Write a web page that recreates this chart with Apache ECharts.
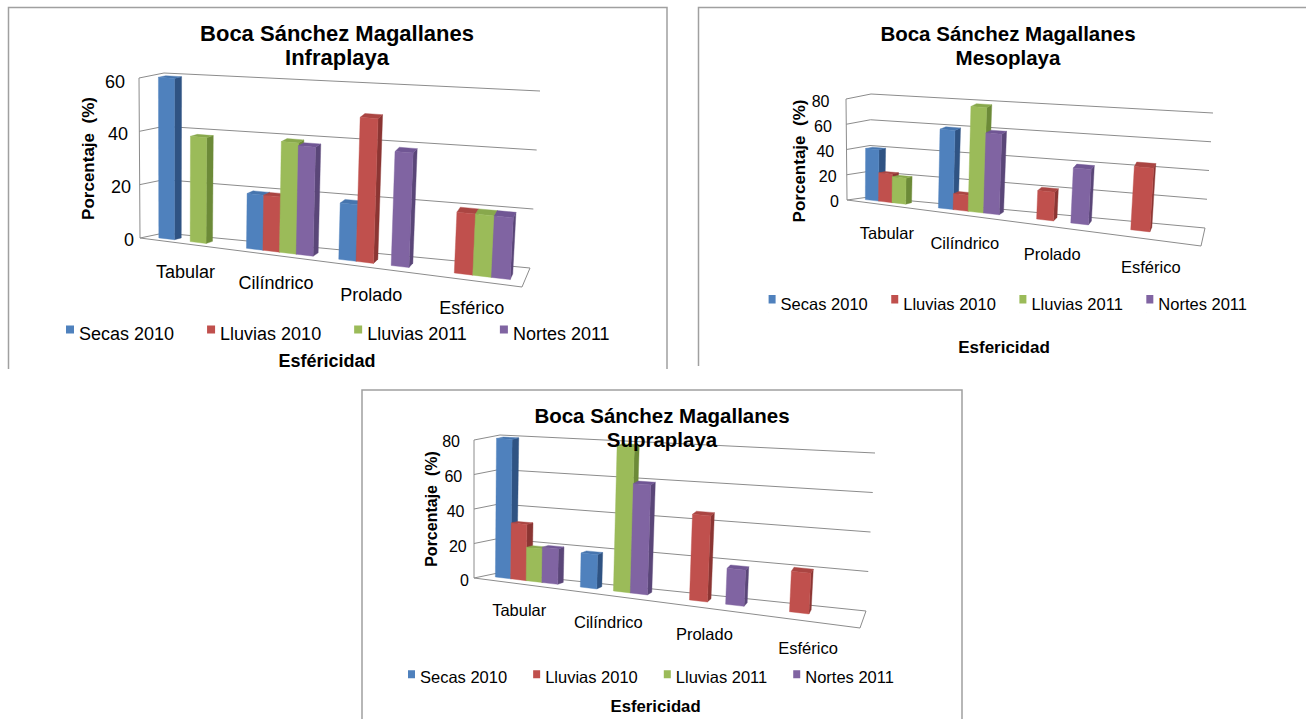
<!DOCTYPE html>
<html><head><meta charset="utf-8">
<script src="https://cdn.jsdelivr.net/npm/echarts@6/dist/echarts.min.js"></script>
<style>html,body{margin:0;padding:0;background:#fff}#c{width:1306px;height:719px}</style>
</head><body><div id="c"></div>
<script>
// ---------------- DATA ----------------
const categories = ['Tabular', 'Cilíndrico', 'Prolado', 'Esférico'];
const seriesNames = ['Secas 2010', 'Lluvias 2010', 'Lluvias 2011', 'Nortes 2011'];

const infraSecas2010   = [60, 20, 20, 0];
const infraLluvias2010 = [0, 20, 51, 21];
const infraLluvias2011 = [39, 40, 0, 21];
const infraNortes2011  = [0, 39, 40, 21];
const infraTicks = [0, 20, 40, 60];

const mesoSecas2010   = [40, 60, 0, 0];
const mesoLluvias2010 = [22, 12, 21, 45];
const mesoLluvias2011 = [20, 79, 0, 0];
const mesoNortes2011  = [0, 60, 40, 0];
const mesoTicks = [0, 20, 40, 60, 80];

const supraSecas2010   = [80, 19, 0, 0];
const supraLluvias2010 = [32, 0, 46, 21];
const supraLluvias2011 = [19, 80, 0, 0];
const supraNortes2011  = [20, 60, 19, 0];
const supraTicks = [0, 20, 40, 60, 80];

// ---------------- STYLE / LAYOUT ----------------
const FONT = '"Liberation Sans", Arial, sans-serif';
const frontColors = ['#4F81BD', '#C0504D', '#9BBB59', '#8064A2'];
const sideColors  = ['#2F5383', '#8B3533', '#6C8A38', '#5A4678'];
const topColors   = ['#4675AE', '#AA4542', '#88A84C', '#705694'];
const gridLineColor = '#8c8c8c';

const panels = [
  {
    title: 'Boca Sánchez Magallanes\nInfraplaya', titleX: 337, titleY: 21, titleSize: 22,
    yName: 'Porcentaje  (%)', yNamePos: [88, 158.5], yNameSize: 17,
    xName: 'Esféricidad', xNamePos: [327, 361], xNameSize: 18,
    values: [infraSecas2010, infraLluvias2010, infraLluvias2011, infraNortes2011],
    ticks: infraTicks, max: 60,
    grid: { left: 140, top: 81.5, width: 374, height: 158.5 },
    geo: { FLB: [140, 238], FLT: [139, 78], BLB: [164, 233], BLT: [164, 73],
           FRB: [522, 287], FRT: [531, 110], BRB: [530, 268], BRT: [540, 91] },
    warp: 0.9, gap: 1.5, z0: 0.3, z1: 0.6, labelOff: [2, 28],
    fontSize: 18, yLabelSize: 18, yLabelMargin: 6, yLabelSlant: 9,
    legend: { left: 66, top: 324.8, gap: 33, iconW: 8, iconH: 8, boxH: 16.5 }
  },
  {
    title: 'Boca Sánchez Magallanes\nMesoplaya', titleX: 1008, titleY: 21, titleSize: 20.5,
    yName: 'Porcentaje  (%)', yNamePos: [799, 161], yNameSize: 17,
    xName: 'Esfericidad', xNamePos: [1004, 347], xNameSize: 17,
    values: [mesoSecas2010, mesoLluvias2010, mesoLluvias2011, mesoNortes2011],
    ticks: mesoTicks, max: 80,
    grid: { left: 846, top: 101.7, width: 316, height: 100 },
    geo: { FLB: [847, 200], FLT: [846, 99], BLB: [869, 197], BLT: [871, 94],
           FRB: [1201, 246], FRT: [1209, 131], BRB: [1205, 228], BRT: [1213, 113] },
    warp: 0.79, gap: 1.3, z0: 0.45, z1: 0.75, labelOff: [4, 28],
    fontSize: 16.5, yLabelSize: 16, yLabelMargin: 7, yLabelSlant: 9.5,
    legend: { left: 768.6, top: 295, gap: 23.5, iconW: 7, iconH: 8.5, boxH: 17.9 }
  },
  {
    title: 'Boca Sánchez Magallanes\nSupraplaya', titleX: 662, titleY: 403, titleSize: 20.5,
    yName: 'Porcentaje  (%)', yNamePos: [431.5, 509], yNameSize: 16,
    xName: 'Esfericidad', xNamePos: [655.6, 706.7], xNameSize: 16.7,
    values: [supraSecas2010, supraLluvias2010, supraLluvias2011, supraNortes2011],
    ticks: supraTicks, max: 80,
    grid: { left: 474, top: 441.7, width: 363, height: 139.1 },
    geo: { FLB: [474, 578], FLT: [474, 440], BLB: [498, 573], BLT: [500, 435],
           FRB: [860, 628], FRT: [869, 470], BRB: [866, 611], BRT: [875, 453] },
    warp: 0.86, gap: 1.4, z0: 0.45, z1: 0.72, labelOff: [3, 27],
    fontSize: 16.5, yLabelSize: 16, yLabelMargin: 5, yLabelSlant: 9,
    legend: { left: 408, top: 668.7, gap: 26, iconW: 7, iconH: 8, boxH: 13.8 }
  }
];

// ---------------- PROJECTION ----------------
function lerp(a, b, t) { return [a[0] + (b[0] - a[0]) * t, a[1] + (b[1] - a[1]) * t]; }
function project(p, X, Y, Z) {
  const r = p.warp;
  const Xw = r * X / (1 + (r - 1) * X);
  const g = p.geo;
  const fb = lerp(g.FLB, g.FRB, Xw), ft = lerp(g.FLT, g.FRT, Xw);
  const bb = lerp(g.BLB, g.BRB, Xw), bt = lerp(g.BLT, g.BRT, Xw);
  return lerp(lerp(fb, ft, Y), lerp(bb, bt, Y), Z);
}
function textEl(x, y, text, size, bold, extra) {
  return Object.assign({
    type: 'text', x: x, y: y,
    style: {
      text: text, fill: '#000', textFill: '#000',
      font: (bold ? 'bold ' : '') + size + 'px ' + FONT,
      align: 'center', verticalAlign: 'middle',
      textAlign: 'center', textVerticalAlign: 'middle'
    }
  }, extra || {});
}

function frameRender(p) {
  return function (params, api) {
    const cs = params.coordSys;
    const P = (X, Y, Z) => project(p, X, Y, Z);
    const line = (a, b) => ({ type: 'line', shape: { x1: a[0], y1: a[1], x2: b[0], y2: b[1] },
      style: { stroke: gridLineColor, lineWidth: 1 } });
    const children = [];
    p.ticks.forEach(t => {
      const Y = (cs.y + cs.height - api.coord([0, t])[1]) / cs.height;
      children.push(line(P(0, Y, 0), P(0, Y, 1)));
      children.push(line(P(0, Y, 1), P(1, Y, 1)));
    });
    children.push(line(P(0, 0, 0), P(0, 1, 0)));
    children.push(line(P(0, 0, 0), P(1, 0, 0)));
    children.push(line(P(1, 0, 0), P(1, 0, 1)));
    categories.forEach((name, i) => {
      const cx = (api.coord([i, 0])[0] - cs.x) / cs.width;
      const pt = P(cx, 0, 0);
      children.push(textEl(pt[0] + p.labelOff[0], pt[1] + p.labelOff[1], name, p.fontSize, false));
    });
    return { type: 'group', children: children };
  };
}

function barRender(p, s) {
  return function (params, api) {
    const cat = api.value(0), v = api.value(1);
    if (!v) return null;
    const cs = params.coordSys;
    const c = api.coord([cat, v]);
    const c0 = api.coord([cat, 0]);
    const band = api.size([1, 0])[0];
    const bw = band / (4 + p.gap);
    const xs = c[0] - band / 2 + bw * p.gap / 2 + s * bw;
    const Xa = (xs - cs.x) / cs.width, Xb = (xs + bw - cs.x) / cs.width;
    const Y = (c0[1] - c[1]) / cs.height;
    const P = (X, Yv, Z) => project(p, X, Yv, Z);
    const z0 = p.z0, z1 = p.z1;
    const poly = (pts, fill) => ({ type: 'polygon', shape: { points: pts },
      style: { fill: fill, stroke: fill, lineWidth: 0.4 } });
    return {
      type: 'group',
      children: [
        poly([P(Xb, 0, z0), P(Xb, 0, z1), P(Xb, Y, z1), P(Xb, Y, z0)], sideColors[s]),
        poly([P(Xa, Y, z0), P(Xb, Y, z0), P(Xb, Y, z1), P(Xa, Y, z1)], topColors[s]),
        poly([P(Xa, 0, z0), P(Xb, 0, z0), P(Xb, Y, z0), P(Xa, Y, z0)], frontColors[s])
      ]
    };
  };
}

// legend key: square at the top of a taller box, so the key sits level with the cap line of the text
function legendIcon(l) {
  const w = l.iconW, h = l.iconH, H = l.boxH;
  return 'path://M0,0L' + w + ',0L' + w + ',' + h + 'L0,' + h + 'Z M0,' + (H - 0.1) + 'L0.1,' + (H - 0.1) + 'L0.1,' + H + 'L0,' + H + 'Z';
}

// ---------------- OPTION ----------------
const option = {
  backgroundColor: '#ffffff',
  animation: false,
  title: panels.map(p => ({
    text: p.title, left: p.titleX, top: p.titleY, textAlign: 'center', padding: 0,
    textStyle: { fontFamily: FONT, fontWeight: 'bold', fontSize: p.titleSize, lineHeight: 24, color: '#000' }
  })),
  grid: panels.map(p => Object.assign({}, p.grid)),
  xAxis: panels.map((p, i) => ({ type: 'category', gridIndex: i, data: categories, show: false })),
  yAxis: panels.map((p, i) => {
    const rich = {};
    p.ticks.forEach((t, k) => {
      rich['p' + k] = { fontSize: p.yLabelSize, fontFamily: FONT, color: '#000',
        padding: [0, p.yLabelSlant * k / (p.ticks.length - 1), 0, 0] };
    });
    return {
      type: 'value', gridIndex: i, min: 0, max: p.max, interval: 20,
      axisLine: { show: false }, axisTick: { show: false }, splitLine: { show: false },
      axisLabel: { margin: p.yLabelMargin, fontSize: p.yLabelSize, fontFamily: FONT, color: '#000',
        formatter: (val, idx) => '{p' + idx + '|' + val + '}', rich: rich }
    };
  }),
  legend: panels.map(p => ({
    data: seriesNames, left: p.legend.left, top: p.legend.top, orient: 'horizontal',
    itemGap: p.legend.gap, itemWidth: p.legend.iconW, itemHeight: p.legend.boxH, padding: 0,
    selectedMode: false, symbolKeepAspect: true, icon: legendIcon(p.legend),
    textStyle: { fontFamily: FONT, fontSize: p.fontSize, color: '#000' }
  })),
  graphic: [].concat(
    [
      { type: 'polyline', shape: { points: [[8.5, 369], [8.5, 7.5], [667, 7.5], [667, 369]] }, style: { stroke: '#a0a0a0', lineWidth: 1.5, fill: null } },
      { type: 'polyline', shape: { points: [[698.5, 366], [698.5, 7.5], [1306, 7.5]] }, style: { stroke: '#a0a0a0', lineWidth: 1.5, fill: null } },
      { type: 'polyline', shape: { points: [[362, 719], [362, 390], [962, 390], [962, 719]] }, style: { stroke: '#a0a0a0', lineWidth: 1.5, fill: null } }
    ],
    panels.map(p => textEl(p.yNamePos[0], p.yNamePos[1], p.yName, p.yNameSize, true, { rotation: Math.PI / 2 })),
    panels.map(p => textEl(p.xNamePos[0], p.xNamePos[1], p.xName, p.xNameSize, true))
  ),
  series: []
};

panels.forEach((p, gi) => {
  option.series.push({
    type: 'custom', name: 'frame' + gi, xAxisIndex: gi, yAxisIndex: gi, silent: true, z: 1,
    data: [[0, 0]], renderItem: frameRender(p)
  });
  p.values.forEach((vals, s) => {
    option.series.push({
      type: 'custom', name: seriesNames[s], xAxisIndex: gi, yAxisIndex: gi, z: 2,
      itemStyle: { color: frontColors[s] },
      encode: { x: 0, y: 1 },
      data: vals.map((v, i) => [i, v]),
      renderItem: barRender(p, s)
    });
  });
});

const chart = echarts.init(document.getElementById('c'), null, { renderer: 'svg' });
chart.setOption(option);
</script>
</body></html>
